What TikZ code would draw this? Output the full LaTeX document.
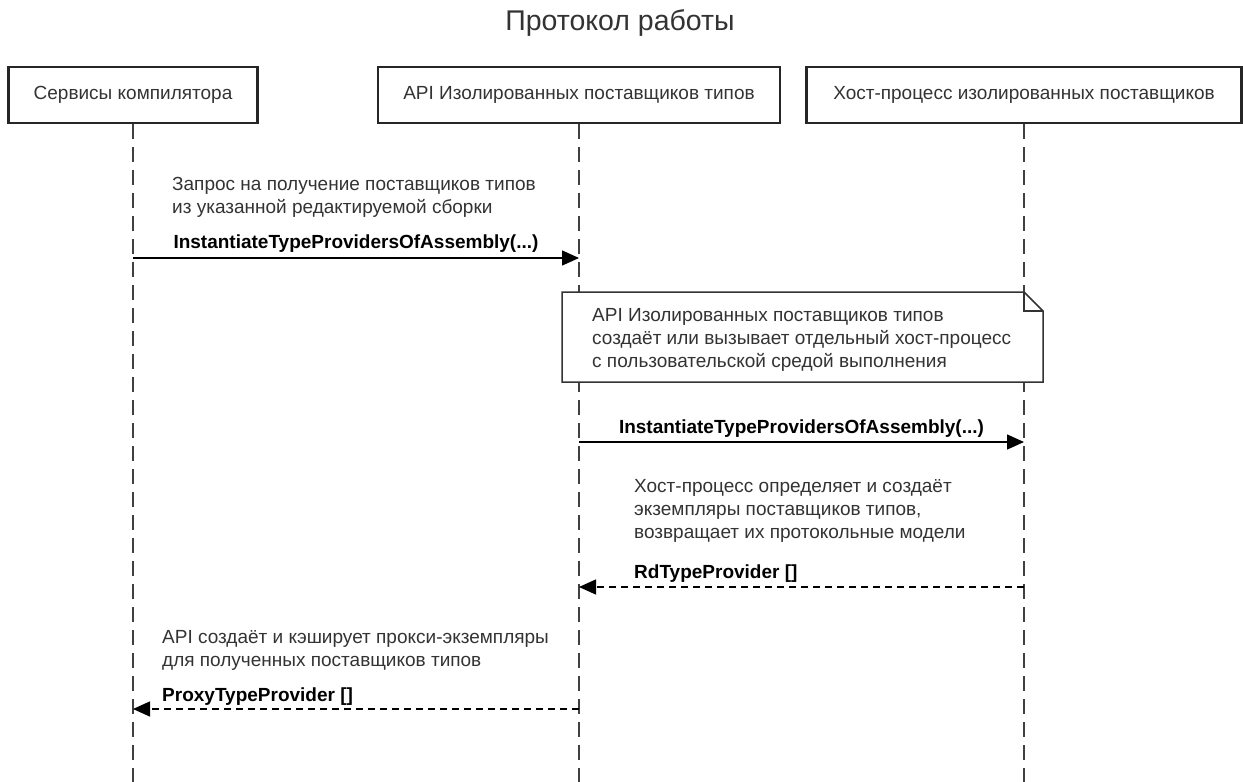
\documentclass[tikz,border=0pt]{standalone}
\usepackage{fontspec}
\setmainfont{Liberation Sans}
\usetikzlibrary{arrows.meta, positioning, calc}

\begin{document}
\begin{tikzpicture}[x=1pt, y=-1pt, font=\fontsize{19}{23}\selectfont,
  actor/.style={draw=black!85, line width=2.2pt, minimum height=56pt, inner sep=0pt, text=black!80},
  lifeline/.style={line width=1.5pt, black!75, dash pattern=on 15pt off 8pt},
  msg/.style={line width=1.4pt, -{Triangle[length=17pt,width=15pt]}},
  reply/.style={msg, dash pattern=on 7pt off 5pt},
  call/.style={font=\fontsize{19}{23}\selectfont\bfseries, anchor=base, inner sep=0pt},
  descr/.style={align=left, text=black!80, inner sep=0pt, anchor=west}]
  \useasboundingbox (0,0) rectangle (1243,782);

  % Title
  \node[font=\fontsize{28.5}{33}\selectfont, text=black!80] (title) at (620,23) {Протокол работы};

  % Participants
  \node[actor, minimum width=249pt] (comp) at (133,95) {Сервисы компилятора};
  \node[actor, minimum width=402pt] (api) at (579,95) {API Изолированных поставщиков типов};
  \node[actor, minimum width=435pt] (host) at (1024,95) {Хост-процесс изолированных поставщиков};

  % Lifelines
  \coordinate (bottom) at (0,782);
  \foreach \p in {comp, api, host} {
    \draw[lifeline] (\p.south) -- (\p.south |- bottom);
  }

  % Request from compiler services
  \node[descr] (d1) at (172,197) {Запрос на получение поставщиков типов\\из указанной редактируемой сборки};
  \draw[msg] (comp.south |- 0,258) coordinate (m1a) -- (api.south |- 0,258) coordinate (m1b);
  \node[call] (c1) at ($(m1a)!0.5!(m1b) + (0,-10)$) {InstantiateTypeProvidersOfAssembly(...)};

  % Note about host process
  \fill[white] (562,292) -- (1024,292) -- (1043,311) -- (1043,382) -- (562,382) -- cycle;
  \draw[line width=1.5pt, black!80, line join=miter] (562,292) -- (1024,292) -- (1043,311) -- (1043,382) -- (562,382) -- cycle;
  \draw[line width=1.5pt, black!80] (1024,292) -- (1024,311) -- (1043,311);
  \node[descr] (note) at (592,340) {API Изолированных поставщиков типов\\создаёт или вызывает отдельный хост-процесс\\с пользовательской средой выполнения};

  % Call to host process
  \draw[msg] (api.south |- 0,442) coordinate (m2a) -- (host.south |- 0,442) coordinate (m2b);
  \node[call] (c2) at ($(m2a)!0.5!(m2b) + (0,-9)$) {InstantiateTypeProvidersOfAssembly(...)};

  % Reply from host process
  \node[descr] (d3) at (634,511) {Хост-процесс определяет и создаёт\\экземпляры поставщиков типов,\\возвращает их протокольные модели};
  \draw[reply] (host.south |- 0,587) coordinate (m3a) -- (api.south |- 0,587) coordinate (m3b);
  \node[call, anchor=base west] (c3) at (634,578) {RdTypeProvider []};

  % Reply to compiler services
  \node[descr] (d4) at (162,650) {API создаёт и кэширует прокси-экземпляры\\для полученных поставщиков типов};
  \draw[reply] (api.south |- 0,709) coordinate (m4a) -- (comp.south |- 0,709) coordinate (m4b);
  \node[call, anchor=base west] (c4) at (162,701) {ProxyTypeProvider []};
\end{tikzpicture}
\end{document}
